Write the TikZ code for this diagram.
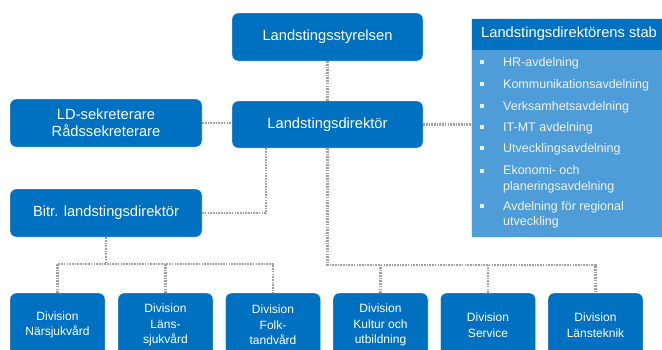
\documentclass[tikz,border=0pt]{standalone}
\usepackage{fontspec}
\setmainfont{Liberation Sans}
\usetikzlibrary{calc}
\definecolor{boxblue}{RGB}{0,112,192}
\definecolor{stafflight}{RGB}{78,157,216}
\definecolor{dotgray}{RGB}{160,160,160}
\tikzset{
  orgbox/.style={draw=white, line width=0.4pt, fill=boxblue, rounded corners=6pt, inner sep=0pt,
    text=white, align=center, font=\fontsize{14.7}{17}\selectfont},
  divbox/.style={orgbox, minimum width=95pt, minimum height=64pt, font=\fontsize{12}{15.5}\selectfont},
  dotline/.style={draw=dotgray, line width=2.2pt, dash pattern=on 1.6pt off 1.1pt},
  listtext/.style={anchor=west, inner sep=0pt, text=white!95!black, align=left, font=\fontsize{12.5}{15.5}\selectfont},
  bulletsq/.style={fill=white!92!black, minimum size=3.8pt, inner sep=0pt}
}
\begin{document}
\begin{tikzpicture}[x=1pt,y=-1pt]
\useasboundingbox (0,0) rectangle (662,349);
\clip (0,0) rectangle (662,349);
\fill[white] (0,0) rectangle (662,349);

% main boxes
\node[orgbox, minimum width=191pt, minimum height=48pt] (sty) at (327.5,37) {Landstingsstyrelsen};
\node[orgbox, minimum width=191pt, minimum height=47pt] (dir) at (327.5,124.5) {Landstingsdirektör};
\node[orgbox, minimum width=192pt, minimum height=48pt] (ldsek) at (106,123) {LD-sekreterare\\Rådssekreterare};
\node[orgbox, minimum width=192pt, minimum height=48pt] (bitr) at (106,213) {Bitr. landstingsdirektör};

% staff box
\node[draw=white!80!stafflight, line width=0.6pt, fill=stafflight, minimum width=200pt, minimum height=219pt, anchor=north west, inner sep=0pt] (staff) at (471,18) {};
\node[fill=boxblue, minimum width=200pt, minimum height=31pt, anchor=north west, inner sep=0pt] (staffhead) at (471.3,18.3) {};
\node[anchor=west, inner sep=0pt, text=white, font=\fontsize{14.7}{17}\selectfont] (stafftitle) at (481,33.5) {Landstingsdirektörens stab};

\node[bulletsq] (b1) at (482,62) {};
\node[listtext] (t1) at (503,63) {HR-avdelning};
\node[bulletsq] (b2) at (482,84) {};
\node[listtext] (t2) at (503,85) {Kommunikationsavdelning};
\node[bulletsq] (b3) at (482,106) {};
\node[listtext] (t3) at (503,107) {Verksamhetsavdelning};
\node[bulletsq] (b4) at (482,127) {};
\node[listtext] (t4) at (503,128) {IT-MT avdelning};
\node[bulletsq] (b5) at (482,148) {};
\node[listtext] (t5) at (503,149) {Utvecklingsavdelning};
\node[bulletsq] (b6) at (482,171) {};
\node[listtext] (t6) at (503,179.5) {Ekonomi- och\\planeringsavdelning};
\node[bulletsq] (b7) at (482,206) {};
\node[listtext] (t7) at (503,215) {Avdelning för regional\\utveckling};

% divisions
\node[divbox] (d1) at (57.5,325) {Division\\Närsjukvård};
\node[divbox] (d2) at (165.5,325) {Division\\Läns-\\sjukvård};
\node[divbox] (d3) at (273,325) {Division\\Folk-\\tandvård};
\node[divbox] (d4) at (380.5,325) {Division\\Kultur och\\utbildning};
\node[divbox] (d5) at (488,325) {Division\\Service};
\node[divbox] (d6) at (595.5,325) {Division\\Länsteknik};

% connectors
\coordinate (lbus) at (106,264);
\coordinate (rbus) at (327.5,265);
\coordinate (dirleft) at ($(dir.south west)+(34,0)$);

\draw[dotline] (sty.south) -- (dir.north);
\draw[dotline] (ldsek.east) -- (ldsek.east -| dir.west);
\draw[dotline] (dir.east) -- (dir.east -| staff.west);
\draw[dotline] (dirleft) |- (bitr.east);
\draw[dotline] (bitr.south) -- (lbus);
\draw[dotline] (d1.north) |- (lbus) -| (d3.north);
\draw[dotline] (d2.north) -- (d2.north |- lbus);
\draw[dotline] (dir.south) -- (rbus) -| (d6.north);
\draw[dotline] (d4.north) -- (d4.north |- rbus);
\draw[dotline] (d5.north) -- (d5.north |- rbus);
\end{tikzpicture}
\end{document}
